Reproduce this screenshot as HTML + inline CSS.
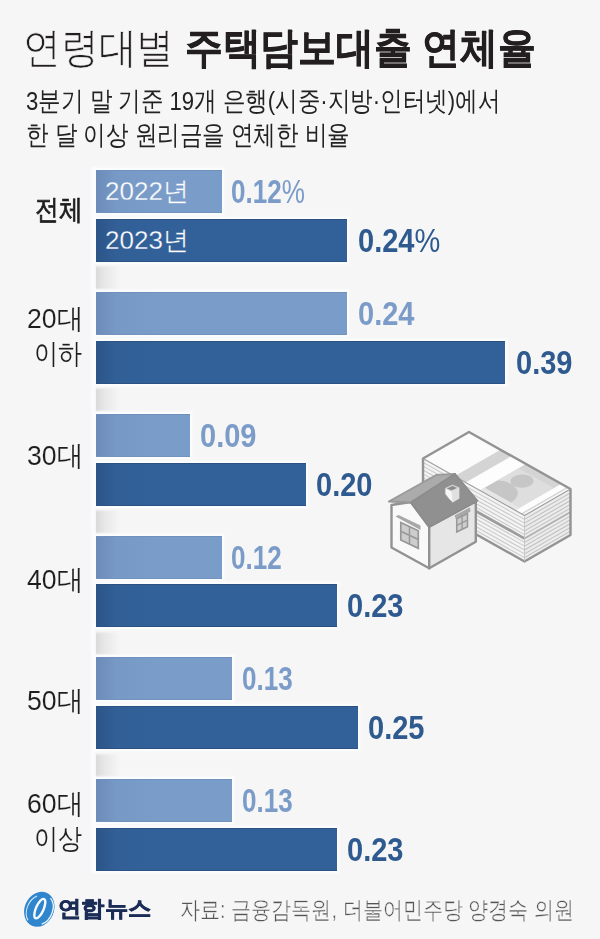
<!DOCTYPE html>
<html lang="ko">
<head>
<meta charset="utf-8">
<style>
html,body{margin:0;padding:0;}
body{width:600px;height:939px;overflow:hidden;background:#f6f6f6;position:relative;font-family:"Liberation Sans",sans-serif;}
.a{position:absolute;white-space:nowrap;}
.title{left:23px;top:22px;font-size:42px;line-height:52px;color:#231f20;transform:scaleX(0.9);transform-origin:0 0;}
.title .l{font-weight:normal;-webkit-text-stroke:0.7px #f6f6f6;}
.title .b{font-weight:bold;-webkit-text-stroke:0.55px #231f20;}
.sub{left:26px;font-size:26.5px;line-height:30px;color:#222;transform:scaleX(0.835);transform-origin:0 0;}
.cat{font-size:28px;line-height:35px;color:#1e1e1e;-webkit-text-stroke:0.1px #f6f6f6;text-align:right;right:517px;transform:scaleX(0.95);transform-origin:100% 0;}
.cb{font-weight:normal;-webkit-text-stroke:0.8px #1e1e1e;transform:scaleX(0.85);right:517px;}
.ci{transform:scaleX(0.86);right:518px;}
.bar{position:absolute;left:96px;height:43px;box-shadow:0 0 0 2px #fbfcfd,0 0 2px 3px rgba(251,252,253,.7);}
.lt{background:linear-gradient(to right,#6c8bb8 0,#7799c6 20px,#7a9cc9 60px);border-top:1px solid #7090bd;border-bottom:1px solid #7393bf;box-sizing:border-box;}
.dk{background:linear-gradient(to right,#2c5588 0,#315f96 20px,#32619a 60px);border-top:1px solid #2b5283;border-bottom:1px solid #2b5283;box-sizing:border-box;}
.yr{color:#fff;font-size:26px;line-height:43px;left:105px;}
.vl{font-size:33px;line-height:43px;font-weight:bold;transform:scaleX(0.88);transform-origin:0 0;}
.n1{transform:scaleX(0.79);}
.vl1{color:#7b9bc8;}
.vl2{color:#2e5a8f;}
.vl .p{font-weight:normal;}
.axis{position:absolute;left:90px;top:167px;width:5px;height:706px;background:linear-gradient(to right,rgba(250,251,253,0),#fafbfd 40%,#fafbfd);}
.gap{position:absolute;left:96px;width:24px;height:26px;background:linear-gradient(to right,#dadada,#e5e5e5 7px,rgba(246,246,246,0));-webkit-mask-image:linear-gradient(to bottom,transparent,#000 3px,#000 23px,transparent);}
.src{left:180px;top:895px;font-size:24px;line-height:30px;color:#555;-webkit-text-stroke:0.4px #f6f6f6;transform:scaleX(0.835);transform-origin:0 0;}
</style>
</head>
<body>
<div class="a title"><span class="l">연령대별</span> <span class="b">주택담보대출 연체율</span></div>
<div class="a sub" style="top:86px">3분기 말 기준 19개 은행(시중·지방·인터넷)에서</div>
<div class="a sub" style="top:120px">한 달 이상 원리금을 연체한 비율</div>

<div class="axis"></div>
<div class="gap" style="top:265px"></div>
<div class="gap" style="top:387px"></div>
<div class="gap" style="top:509px"></div>
<div class="gap" style="top:631px"></div>
<div class="gap" style="top:753px"></div>


<!-- group 1 -->
<div class="bar lt" style="top:170px;width:126px"></div>
<div class="bar dk" style="top:219px;width:251px"></div>
<div class="a yr" style="top:170px;-webkit-text-stroke:0.3px #7a9cc9">2022년</div>
<div class="a yr" style="top:219px;-webkit-text-stroke:0.3px #32619a">2023년</div>
<div class="a vl vl1 n1" style="left:231px;top:170px">0.12<span class="p">%</span></div>
<div class="a vl vl2" style="left:358px;top:219px">0.24<span class="p">%</span></div>

<!-- group 2 -->
<div class="bar lt" style="top:292px;width:251px"></div>
<div class="bar dk" style="top:341px;width:409px"></div>
<div class="a vl vl1" style="left:358px;top:292px">0.24</div>
<div class="a vl vl2" style="left:516px;top:341px">0.39</div>

<!-- group 3 -->
<div class="bar lt" style="top:414px;width:94px"></div>
<div class="bar dk" style="top:463px;width:210px"></div>
<div class="a vl vl1" style="left:200px;top:414px">0.09</div>
<div class="a vl vl2" style="left:316px;top:463px">0.20</div>

<!-- group 4 -->
<div class="bar lt" style="top:536px;width:126px"></div>
<div class="bar dk" style="top:584px;width:241px"></div>
<div class="a vl vl1 n1" style="left:231px;top:536px">0.12</div>
<div class="a vl vl2" style="left:347px;top:584px">0.23</div>

<!-- group 5 -->
<div class="bar lt" style="top:657px;width:136px"></div>
<div class="bar dk" style="top:706px;width:262px"></div>
<div class="a vl vl1 n1" style="left:242px;top:657px">0.13</div>
<div class="a vl vl2" style="left:368px;top:706px">0.25</div>

<!-- group 6 -->
<div class="bar lt" style="top:779px;width:136px"></div>
<div class="bar dk" style="top:828px;width:241px"></div>
<div class="a vl vl1 n1" style="left:242px;top:779px">0.13</div>
<div class="a vl vl2" style="left:347px;top:828px">0.23</div>

<div class="a cat cb" style="top:192px">전체</div>
<div class="a cat" style="top:301px">20대</div>
<div class="a cat ci" style="top:336px">이하</div>
<div class="a cat" style="top:438px">30대</div>
<div class="a cat" style="top:562px">40대</div>
<div class="a cat" style="top:683px">50대</div>
<div class="a cat" style="top:786px">60대</div>
<div class="a cat ci" style="top:821px">이상</div>

<!-- illustration placeholder -->
<svg class="a" style="left:380px;top:420px" width="200" height="160" viewBox="380 420 200 160">
<g transform="matrix(101.5,57.0,0,46,423.0,458.5)">
<rect x="0" y="0" width="1" height="1" fill="#f4f4f4"/>
<rect x="0" y="0.0683" width="1" height="0.03" fill="#cdcdcd"/>
<rect x="0" y="0.1517" width="1" height="0.03" fill="#cdcdcd"/>
<rect x="0" y="0.2350" width="1" height="0.03" fill="#cdcdcd"/>
<rect x="0" y="0.3183" width="1" height="0.03" fill="#cdcdcd"/>
<rect x="0" y="0.4017" width="1" height="0.03" fill="#cdcdcd"/>
<rect x="0" y="0.5683" width="1" height="0.03" fill="#cdcdcd"/>
<rect x="0" y="0.6517" width="1" height="0.03" fill="#cdcdcd"/>
<rect x="0" y="0.7350" width="1" height="0.03" fill="#cdcdcd"/>
<rect x="0" y="0.8183" width="1" height="0.03" fill="#cdcdcd"/>
<rect x="0" y="0.9017" width="1" height="0.03" fill="#cdcdcd"/>
<rect x="0" y="0.465" width="1" height="0.070" fill="#9c9c9c"/>
</g>
<g transform="matrix(46.0,-26.5,0,46,524.5,515.5)">
<rect x="0" y="0" width="1" height="1" fill="#ececec"/>
<rect x="0" y="0.0683" width="1" height="0.03" fill="#c4c4c4"/>
<rect x="0" y="0.1517" width="1" height="0.03" fill="#c4c4c4"/>
<rect x="0" y="0.2350" width="1" height="0.03" fill="#c4c4c4"/>
<rect x="0" y="0.3183" width="1" height="0.03" fill="#c4c4c4"/>
<rect x="0" y="0.4017" width="1" height="0.03" fill="#c4c4c4"/>
<rect x="0" y="0.5683" width="1" height="0.03" fill="#c4c4c4"/>
<rect x="0" y="0.6517" width="1" height="0.03" fill="#c4c4c4"/>
<rect x="0" y="0.7350" width="1" height="0.03" fill="#c4c4c4"/>
<rect x="0" y="0.8183" width="1" height="0.03" fill="#c4c4c4"/>
<rect x="0" y="0.9017" width="1" height="0.03" fill="#c4c4c4"/>
<rect x="0" y="0.480" width="1" height="0.040" fill="#b0b0b0"/>
</g>
<g transform="matrix(101.5,57.0,-46.0,26.5,469.0,432.0)">
<defs><clipPath id="bill" clipPathUnits="userSpaceOnUse"><rect x="0.56" y="0.04" width="0.35" height="0.86"/></clipPath></defs>
<rect x="0" y="0" width="1" height="1" fill="#fbfbfb"/>
<rect x="0.31" y="0" width="0.67" height="1" fill="#d4d4d4"/>
<rect x="0.56" y="0.16" width="0.35" height="0.74" fill="#dedede"/>
<g clip-path="url(#bill)">
<ellipse cx="0.69" cy="0.37" rx="0.08" ry="0.18" fill="#c6c6c6"/>
<ellipse cx="0.66" cy="0.9" rx="0.16" ry="0.36" fill="#c6c6c6"/>
</g>
<rect x="0.42" y="0" width="0.14" height="1" fill="#fdfdfd"/>
<rect x="0.91" y="0" width="0.055" height="1" fill="#fdfdfd"/>
<rect x="0.56" y="0.9" width="0.35" height="0.1" fill="#e6e6e6"/>
</g>
<polygon points="469.0,432.0 570.5,489.0 570.5,535.0 524.5,561.5 423.0,504.5 423.0,458.5" fill="none" stroke="#939393" stroke-width="2.4" stroke-linejoin="round"/>
<polyline points="423.0,458.5 524.5,515.5 570.5,489.0" fill="none" stroke="#a0a0a0" stroke-width="1.2"/>
<line x1="524.5" y1="515.5" x2="524.5" y2="561.5" stroke="#c0c0c0" stroke-width="0.8"/>
<polygon points="391.5,547.5 391.5,505 410.8,502 429.2,526.7 429.2,568.3" fill="#f9f9f9" stroke="#929292" stroke-width="2.4" stroke-linejoin="round"/>
<polygon points="429.2,526.7 475.8,501.5 475.8,541.7 429.2,568.3" fill="#e6e6e6" stroke="#929292" stroke-width="2.4" stroke-linejoin="round"/>
<polygon points="388.8,501.5 436.7,474.8 455,473.8 410.8,502.5" fill="#ababab" stroke="#999" stroke-width="1.8" stroke-linejoin="round"/>
<polygon points="410.8,502.5 455,473.8 477.5,500.8 429.2,527" fill="#909090" stroke="#8c8c8c" stroke-width="1.6" stroke-linejoin="round"/>
<polygon points="445,488.3 452.5,484.7 459.2,487.5 459.2,498.5 452.5,502.5 449.2,499.2 445,494" fill="#f6f6f6" stroke="#9c9c9c" stroke-width="0.8"/>
<polygon points="445,488.3 452.5,484.7 459.2,487.5 451.7,491.7" fill="#d0d0d0"/>
<polygon points="447,488.5 452.5,486 457,488 451.7,490.3" fill="#8a8a8a"/>
<polygon points="451.7,491.7 459.2,487.5 459.2,498.5 452.5,502.5" fill="#e0e0e0"/>
<polygon points="395.5,516.5 398.5,515 420.5,525.5 420.5,530" fill="#a8a8a8"/>
<polygon points="400.8,522.5 418.3,530.8 418.3,548.3 400.8,540" fill="#cdcdcd" stroke="#989898" stroke-width="1.7"/>
<line x1="409.5" y1="526.6" x2="409.5" y2="544.2" stroke="#989898" stroke-width="1.5"/>
<line x1="400.8" y1="531.2" x2="418.3" y2="539.5" stroke="#989898" stroke-width="1.5"/>
<polygon points="454.5,515.5 469.8,507.5 470.5,511.5 455.8,519" fill="#a8a8a8"/>
<polygon points="456.7,518.8 467.5,513.5 467.5,526.7 456.7,532" fill="#cdcdcd" stroke="#989898" stroke-width="1.5"/>
<line x1="462.1" y1="516.2" x2="462.1" y2="529.4" stroke="#989898" stroke-width="1.3"/>
<line x1="456.7" y1="525.4" x2="467.5" y2="520.1" stroke="#989898" stroke-width="1.3"/>
</svg>

<!-- footer -->
<svg class="a" style="left:18px;top:886px" width="44" height="46" viewBox="0 0 44 46">
<g transform="rotate(24 21.3 23.3)">
<ellipse cx="21.3" cy="23.3" rx="14.6" ry="18" fill="#2f86cd"/>
<path d="M 27 8.6 A 11.5 15.5 0 0 1 29.5 36" fill="none" stroke="#eaf3fb" stroke-width="1.3"/>
<path d="M 15.5 38 A 11.5 15.5 0 0 1 13.8 12" fill="none" stroke="#d8e8f6" stroke-width="1"/>
<ellipse cx="21.5" cy="22.5" rx="3.8" ry="10.5" fill="none" stroke="#f7fbff" stroke-width="2.4"/>
</g>
</svg>
<div class="a" style="left:58px;top:894px;font-size:22px;line-height:30px;font-weight:bold;color:#1b2d57;-webkit-text-stroke:0.6px #1b2d57;transform:scaleX(1.06);transform-origin:0 0">연합뉴스</div>
<div class="a src">자료: 금융감독원, 더불어민주당 양경숙 의원</div>
</body>
</html>
